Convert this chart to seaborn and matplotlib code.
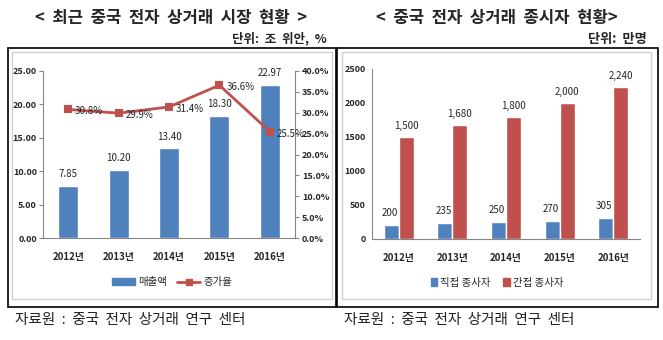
import matplotlib
matplotlib.use("Agg")
import matplotlib.pyplot as plt
import seaborn as sns
import pandas as pd
from matplotlib.patches import Rectangle, Patch
from matplotlib.lines import Line2D

years = ["2012년", "2013년", "2014년", "2015년", "2016년"]
sales = [7.85, 10.20, 13.40, 18.30, 22.97]
growth = [30.8, 29.9, 31.4, 36.6, 25.5]
direct = [200, 235, 250, 270, 305]
indirect = [1500, 1680, 1800, 2000, 2240]

left_title = "<  최근  중국  전자  상거래  시장  현황  >"
right_title = "<  중국  전자  상거래  종시자  현황>"
left_unit = "단위:  조  위안,  %"
right_unit = "단위:  만명"
source = "자료원  :  중국  전자  상거래  연구  센터"

sns.set_theme(style="white")
plt.rcParams['font.family'] = ['Noto Sans CJK KR', 'DejaVu Sans']

BLUE = "#4F81BD"
RED = "#C0504D"
GRAY = "#868686"

W, H = 663, 340
fig = plt.figure(figsize=(W / 100, H / 100), dpi=100)

def fx(px):
    return px / W

def fy(py):
    return 1 - py / H

def add_ax(x0, y0, x1, y1):
    return fig.add_axes([fx(x0), fy(y1), fx(x1) - fx(x0), (y1 - y0) / H])

# frames
for (x0, y0, x1, y1) in [(8, 48, 336, 307), (337, 48, 658, 307)]:
    fig.patches.append(Rectangle((fx(x0), fy(y1)), fx(x1) - fx(x0), (y1 - y0) / H,
                                 transform=fig.transFigure, fill=False, ec="black", lw=1.2))
for (x0, y0, x1, y1) in [(12, 52, 332, 299), (342, 52, 651, 299)]:
    fig.patches.append(Rectangle((fx(x0), fy(y1)), fx(x1) - fx(x0), (y1 - y0) / H,
                                 transform=fig.transFigure, fill=False, ec="#D0D0D0", lw=1.0))

# titles
fig.text(fx(171), fy(18), left_title, ha="center", va="center", fontsize=12, fontweight="bold")
fig.text(fx(497), fy(18), right_title, ha="center", va="center", fontsize=12, fontweight="bold")
fig.text(fx(327), fy(39), left_unit, ha="right", va="center", fontsize=9, fontweight="bold")
fig.text(fx(647), fy(39), right_unit, ha="right", va="center", fontsize=9.5, fontweight="bold")
fig.text(fx(15), fy(320), source, ha="left", va="center", fontsize=10.5, color="#222222")
fig.text(fx(344), fy(320), source, ha="left", va="center", fontsize=10.5, color="#222222")

def style_axes(ax):
    for s in ["top"]:
        ax.spines[s].set_visible(False)
    for s in ["left", "bottom", "right"]:
        ax.spines[s].set_color(GRAY)
        ax.spines[s].set_linewidth(0.8)
    ax.set_xlim(-0.5, 4.5)
    ax.set_xticks(range(5))
    ax.set_xticklabels(years, fontsize=7, fontweight="bold")
    ax.tick_params(axis="x", which="major", length=0, pad=10)
    ax.set_xticks([i - 0.5 for i in range(6)], minor=True)
    ax.tick_params(axis="x", which="minor", length=4, color=GRAY, width=0.8, direction="out")
    ax.tick_params(axis="y", length=3, color=GRAY, width=0.8, direction="out", labelsize=6.5, pad=1.5)
    ax.set_xlabel("")
    ax.set_ylabel("")
    for t in ax.get_yticklabels():
        t.set_fontweight("bold")
    ax.patch.set_alpha(0)

# ---- left chart ----
ax1 = add_ax(43, 71, 295, 238)
df1 = pd.DataFrame({"year": years, "sales": sales, "growth": growth})
sns.barplot(data=df1, x="year", y="sales", color=BLUE, saturation=1, width=0.4, ax=ax1)
ax1.set_ylim(0, 25)
ax1.set_yticks([0, 5, 10, 15, 20, 25])
ax1.set_yticklabels([f"{v:.2f}" for v in [0, 5, 10, 15, 20, 25]])
style_axes(ax1)
ax1.spines["right"].set_visible(False)
for i, v in enumerate(sales):
    ax1.annotate(f"{v:.2f}", (i, v), xytext=(0, 5), textcoords="offset points",
                 ha="center", va="bottom", fontsize=7)

ax2 = ax1.twinx()
sns.pointplot(data=df1, x="year", y="growth", color=RED, markers="s", markersize=5,
              linewidth=2, ax=ax2)
ax2.set_ylim(0, 40)
ax2.set_yticks([0, 5, 10, 15, 20, 25, 30, 35, 40])
ax2.set_yticklabels([f"{v:.1f}%" for v in [0, 5, 10, 15, 20, 25, 30, 35, 40]])
ax2.set_xlim(-0.5, 4.5)
ax2.spines["top"].set_visible(False)
ax2.spines["left"].set_visible(False)
ax2.spines["bottom"].set_visible(False)
ax2.spines["right"].set_color(GRAY)
ax2.spines["right"].set_linewidth(0.8)
ax2.tick_params(axis="y", length=3, color=GRAY, width=0.8, direction="out", labelsize=6.5, pad=2)
for t in ax2.get_yticklabels():
    t.set_fontweight("bold")
ax2.set_ylabel("")
ax2.set_xlabel("")
for i, v in enumerate(growth):
    ax2.annotate(f"{v:.1f}%", (i, v), xytext=(5, -1.5), textcoords="offset points",
                 ha="left", va="center", fontsize=7)

h1 = [Patch(color=BLUE), Line2D([0], [0], color=RED, lw=2, marker="s", markersize=4)]
fig.legend(h1, ["매출액", "증가율"], loc="center", bbox_to_anchor=(fx(172), fy(282)),
           ncol=2, frameon=False, fontsize=7.5, handlelength=2.2, handleheight=0.6,
           columnspacing=1.0, handletextpad=0.3)

# ---- right chart ----
ax3 = add_ax(372, 69, 640, 239)
df2 = pd.DataFrame({
    "year": years * 2,
    "value": direct + indirect,
    "type": ["직접 종사자"] * 5 + ["간접 종사자"] * 5,
})
sns.barplot(data=df2, x="year", y="value", hue="type", palette=[BLUE, RED],
            saturation=1, width=0.56, ax=ax3, legend=False)
ax3.set_ylim(0, 2500)
ax3.set_yticks([0, 500, 1000, 1500, 2000, 2500])
ax3.set_yticklabels(["0", "500", "1000", "1500", "2000", "2500"])
style_axes(ax3)
ax3.spines["right"].set_visible(False)
off = 0.14
for i, v in enumerate(direct):
    ax3.annotate(f"{v:,}", (i - off - 0.03, v), xytext=(0, 5), textcoords="offset points",
                 ha="center", va="bottom", fontsize=7)
for i, v in enumerate(indirect):
    ax3.annotate(f"{v:,}", (i + off, v), xytext=(0, 4), textcoords="offset points",
                 ha="center", va="bottom", fontsize=7)

h2 = [Patch(color=BLUE), Patch(color=RED)]
fig.legend(h2, ["직접 종사자", "간접 종사자"], loc="center", bbox_to_anchor=(fx(497), fy(283)),
           ncol=2, frameon=False, fontsize=7.5, handlelength=0.6, handleheight=0.8,
           columnspacing=1.2, handletextpad=0.3)

fig.savefig("out.png", dpi=100)
